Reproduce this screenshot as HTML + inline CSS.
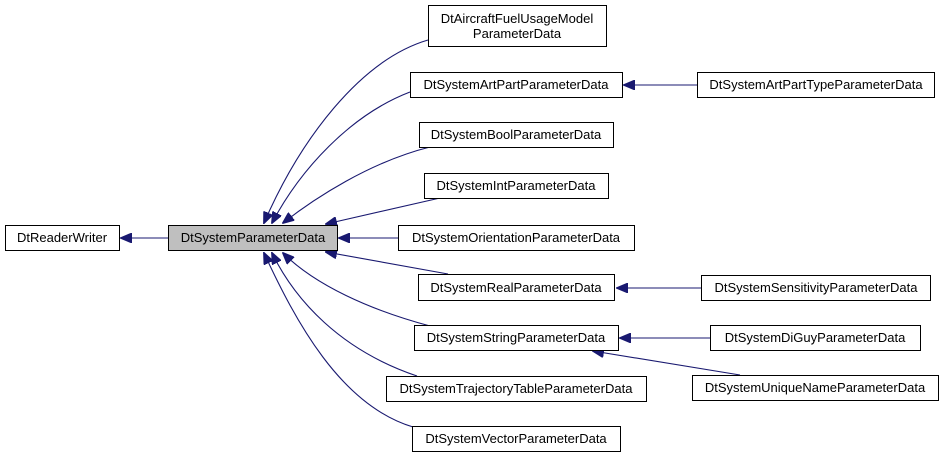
<!DOCTYPE html>
<html><head><meta charset="utf-8"><style>
html,body{margin:0;padding:0;background:#fff;}
text{font-family:"Liberation Sans",sans-serif;font-size:13px;fill:#000;}
</style></head><body>
<svg width="944" height="459" viewBox="0 0 944 459" xmlns="http://www.w3.org/2000/svg">
<defs>
<marker id="a" markerWidth="12" markerHeight="10" refX="11" refY="5" orient="auto" markerUnits="userSpaceOnUse">
<path d="M0,0 L12,5 L0,10 Z" fill="#191970" stroke="#191970"/>
</marker>
</defs>
<g fill="none" stroke="#191970" stroke-width="1.1">
<path d="M168,238 L121,238" marker-end="url(#a)"/>
<path d="M428,40 C360,60 300,140 264,223" marker-end="url(#a)"/>
<path d="M410,92 C350,115 300,170 272,223" marker-end="url(#a)"/>
<path d="M430,147 C370,162 315,198 283,223" marker-end="url(#a)"/>
<path d="M440,198 L326,224" marker-end="url(#a)"/>
<path d="M398,238 L339,238" marker-end="url(#a)"/>
<path d="M448,274 L326,252" marker-end="url(#a)"/>
<path d="M430,326 C370,310 315,285 283,253" marker-end="url(#a)"/>
<path d="M417,376 C340,350 295,300 272,253" marker-end="url(#a)"/>
<path d="M413,427 C340,405 295,320 264,253" marker-end="url(#a)"/>
<path d="M697,85 L624,85" marker-end="url(#a)"/>
<path d="M701,288 L617,288" marker-end="url(#a)"/>
<path d="M710,338 L620,338" marker-end="url(#a)"/>
<path d="M740,375 L593,351" marker-end="url(#a)"/>
</g>
<g stroke="#000" stroke-width="1">
<rect x="5.5" y="225.5" width="114" height="25" fill="#fff"/>
<rect x="168.5" y="225.5" width="169" height="25" fill="#bfbfbf"/>
<rect x="428.5" y="5.5" width="178" height="41" fill="#fff"/>
<rect x="410.5" y="72.5" width="212" height="25" fill="#fff"/>
<rect x="697.5" y="72.5" width="237" height="25" fill="#fff"/>
<rect x="419.5" y="122.5" width="194" height="25" fill="#fff"/>
<rect x="424.5" y="173.5" width="184" height="25" fill="#fff"/>
<rect x="398.5" y="225.5" width="236" height="25" fill="#fff"/>
<rect x="418.5" y="274.5" width="196" height="26" fill="#fff"/>
<rect x="701.5" y="275.5" width="229" height="25" fill="#fff"/>
<rect x="414.5" y="325.5" width="204" height="25" fill="#fff"/>
<rect x="710.5" y="325.5" width="210" height="25" fill="#fff"/>
<rect x="692.5" y="375.5" width="246" height="25" fill="#fff"/>
<rect x="386.5" y="376.5" width="260" height="25" fill="#fff"/>
<rect x="412.5" y="426.5" width="208" height="25" fill="#fff"/>
</g>
<g text-anchor="middle">
<text x="62" y="242">DtReaderWriter</text>
<text x="253" y="242">DtSystemParameterData</text>
<text x="517" y="23">DtAircraftFuelUsageModel</text>
<text x="517" y="38">ParameterData</text>
<text x="516" y="89">DtSystemArtPartParameterData</text>
<text x="816" y="89">DtSystemArtPartTypeParameterData</text>
<text x="516" y="139">DtSystemBoolParameterData</text>
<text x="516" y="190">DtSystemIntParameterData</text>
<text x="516" y="242">DtSystemOrientationParameterData</text>
<text x="516" y="292">DtSystemRealParameterData</text>
<text x="816" y="292">DtSystemSensitivityParameterData</text>
<text x="516" y="342">DtSystemStringParameterData</text>
<text x="815" y="342">DtSystemDiGuyParameterData</text>
<text x="815" y="392">DtSystemUniqueNameParameterData</text>
<text x="516" y="393">DtSystemTrajectoryTableParameterData</text>
<text x="516" y="443">DtSystemVectorParameterData</text>
</g>
</svg>
</body></html>
